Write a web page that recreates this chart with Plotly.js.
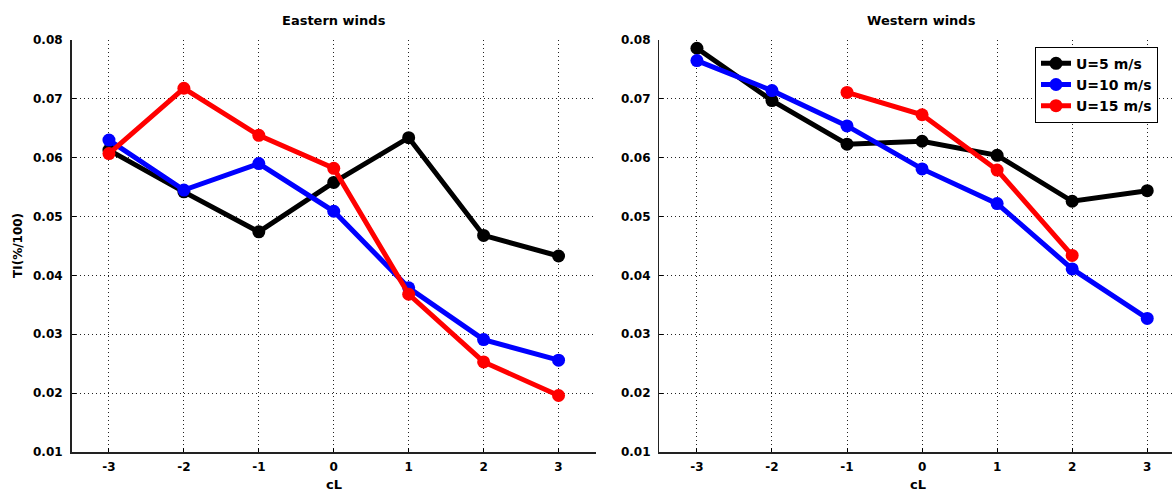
<!DOCTYPE html>
<html>
<head>
<meta charset="utf-8">
<script src="https://cdn.plot.ly/plotly-3.0.1.min.js"></script>
<style>html,body{margin:0;padding:0;background:#fff;}#chart{width:1172px;height:493px;}</style>
</head>
<body>
<div id="chart"></div>
<script>
// ---- data ----
const cL = [-3, -2, -1, 0, 1, 2, 3];
const seriesNames = ['U=5 m/s', 'U=10 m/s', 'U=15 m/s'];
const seriesColors = ['#000000', '#0000ff', '#ff0000'];

// Eastern winds
const eastU5  = [0.0613, 0.0542, 0.0474, 0.0558, 0.0634, 0.0468, 0.0433];
const eastU10 = [0.0630, 0.0545, 0.0590, 0.0509, 0.0379, 0.0291, 0.0256];
const eastU15 = [0.0607, 0.0718, 0.0638, 0.0582, 0.0368, 0.0253, 0.0196];

// Western winds
const westU5  = [0.0786, 0.0697, 0.0623, 0.0628, 0.0604, 0.0526, 0.0544];
const westU10 = [0.0765, 0.0714, 0.0654, 0.0581, 0.0522, 0.0411, 0.0327];
const westU15 = [null, null, 0.0711, 0.0673, 0.0579, 0.0434, null];

const yTicks = [0.01, 0.02, 0.03, 0.04, 0.05, 0.06, 0.07, 0.08];
const yTickText = ['0.01', '0.02', '0.03', '0.04', '0.05', '0.06', '0.07', '0.08'];
const xTickText = ['-3', '-2', '-1', '0', '1', '2', '3'];

// ---- build ----
const FONT = 'DejaVu Sans, Liberation Sans, Arial, sans-serif';
function mk(y, i, xa, ya, showLeg) {
  return {
    x: cL, y: y, type: 'scatter', mode: 'lines+markers',
    name: seriesNames[i], xaxis: xa, yaxis: ya, showlegend: showLeg,
    line: {color: seriesColors[i], width: 5},
    marker: {color: seriesColors[i], size: 13, symbol: 'circle'},
    connectgaps: false
  };
}
const data = [
  mk(eastU5, 0, 'x', 'y', false),
  mk(eastU10, 1, 'x', 'y', false),
  mk(eastU15, 2, 'x', 'y', false),
  mk(westU5, 0, 'x2', 'y2', true),
  mk(westU10, 1, 'x2', 'y2', true),
  mk(westU15, 2, 'x2', 'y2', true)
];

const tickFont = {family: FONT, size: 12, color: '#000', weight: 'bold'};
const GRID = {showgrid: true, gridcolor: '#222', gridwidth: 1, griddash: '1px,3px'};
function xax(domain, range, anchor) {
  return Object.assign({
    domain: domain, range: range, anchor: anchor,
    tickmode: 'array', tickvals: cL, ticktext: xTickText,
    ticks: 'inside', ticklen: 4, tickcolor: '#000', tickwidth: 1,
    showline: true, linecolor: '#222', linewidth: 1.5,
    zeroline: false, tickfont: tickFont, ticklabelstandoff: 3, fixedrange: true
  }, GRID);
}
function yax(anchor) {
  return Object.assign({
    domain: [0, 1], range: [0.01, 0.08], anchor: anchor,
    tickmode: 'array', tickvals: yTicks, ticktext: yTickText,
    ticks: 'inside', ticklen: 4, tickcolor: '#000', tickwidth: 1,
    showline: true, linecolor: '#222', linewidth: 1.5,
    zeroline: false, tickfont: tickFont, ticklabelstandoff: 5, fixedrange: true
  }, GRID);
}

const layout = {
  width: 1172, height: 493,
  margin: {l: 0, r: 0, t: 40, b: 41, pad: 0},
  paper_bgcolor: '#fff', plot_bgcolor: '#fff',
  font: {family: FONT, color: '#000'},
  xaxis: xax([71.5/1172, 596/1172], [-3.5, 3.5], 'y'),
  yaxis: yax('x'),
  xaxis2: xax([659.4/1172, 1], [-3.5, 3.33], 'y2'),
  yaxis2: yax('x2'),
  showlegend: true,
  legend: {
    x: 1035/1172, y: (452-46.7)/412, xanchor: 'left', yanchor: 'top',
    bgcolor: '#fff', bordercolor: '#000', borderwidth: 1,
    font: {family: FONT, size: 14, color: '#000', weight: 'bold'},
    tracegroupgap: 0, itemwidth: 30
  },
  annotations: [
    {text: 'Eastern winds', xref: 'paper', yref: 'paper', x: 333.8/1172, y: (452-20)/412,
     xanchor: 'center', yanchor: 'middle', showarrow: false,
     font: {family: FONT, size: 13, color: '#000', weight: 'bold'}},
    {text: 'Western winds', xref: 'paper', yref: 'paper', x: 921/1172, y: (452-20)/412,
     xanchor: 'center', yanchor: 'middle', showarrow: false,
     font: {family: FONT, size: 13, color: '#000', weight: 'bold'}},
    {text: 'cL', xref: 'paper', yref: 'paper', x: 333.8/1172, y: (452-484)/412,
     xanchor: 'center', yanchor: 'middle', showarrow: false,
     font: {family: FONT, size: 13, color: '#000', weight: 'bold'}},
    {text: 'cL', xref: 'paper', yref: 'paper', x: 918/1172, y: (452-484)/412,
     xanchor: 'center', yanchor: 'middle', showarrow: false,
     font: {family: FONT, size: 13, color: '#000', weight: 'bold'}},
    {text: 'TI(%/100)', xref: 'paper', yref: 'paper', x: 18/1172, y: 0.5, textangle: -90,
     xanchor: 'center', yanchor: 'middle', showarrow: false,
     font: {family: FONT, size: 12, color: '#000', weight: 'bold'}}
  ]
};

Plotly.newPlot('chart', data, layout, {displayModeBar: false, staticPlot: true});
</script>
</body>
</html>
